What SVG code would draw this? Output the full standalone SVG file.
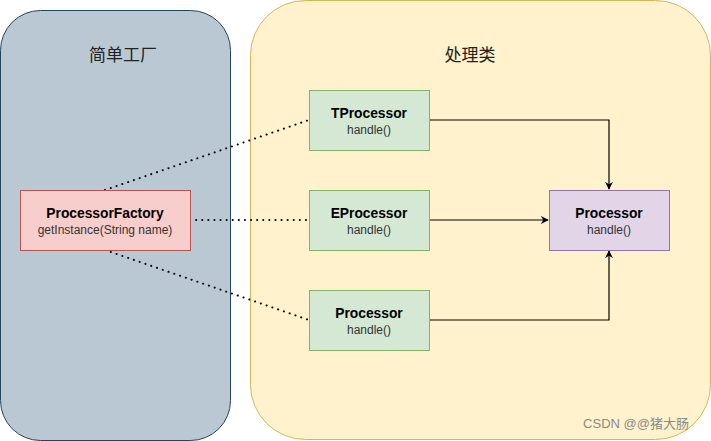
<svg xmlns="http://www.w3.org/2000/svg" width="711" height="441" viewBox="0 0 711 441">
<style>
.t{font-family:"Liberation Sans",Arial,sans-serif;text-anchor:middle;fill:#000}
.b{font-weight:bold;font-size:13.8px}
.s{font-size:12px;fill:#333}
.cn{font-family:"Liberation Sans","Noto Sans CJK SC",sans-serif;font-size:17px;text-anchor:middle;fill:#222}
.g{fill:#d5e8d4;stroke:#82b366;stroke-width:1}
.dot{fill:none;stroke:#000;stroke-width:2;stroke-dasharray:0.1 6;stroke-linecap:round}
.ln{fill:none;stroke:#000;stroke-width:1.2}
</style>
<defs>
<marker id="ar" viewBox="0 0 10 10" refX="9" refY="5" markerWidth="8" markerHeight="8" markerUnits="userSpaceOnUse" orient="auto">
<path d="M0,0 L10,5 L0,10 L3,5 Z" fill="#000"/>
</marker>
</defs>
<g id="factory-group">
<rect x="0.5" y="10.5" width="230" height="430" rx="40" fill="#bac8d3" stroke="#23445d"/>
<text class="cn" x="123" y="61">简单工厂</text>
</g>
<g id="handler-group">
<rect x="250.5" y="0.5" width="460" height="439" rx="55" fill="#fff2cc" stroke="#d6b656"/>
<text class="cn" x="470" y="61">处理类</text>
</g>
<g id="connectors">
<path class="dot" d="M105,190 L309,120"/>
<path class="dot" d="M190,220 L309,220"/>
<path class="dot" d="M105,250 L309,320"/>
<path class="ln" d="M429,120 L609,120 L609,189" marker-end="url(#ar)"/>
<path class="ln" d="M429,220 L548,220" marker-end="url(#ar)"/>
<path class="ln" d="M429,320 L609,320 L609,251" marker-end="url(#ar)"/>
</g>
<g id="ProcessorFactory">
<rect x="20.5" y="190.5" width="170" height="60" fill="#f8cecc" stroke="#b85450"/>
<text class="t b" x="105" y="218">ProcessorFactory</text>
<text class="t s" x="105" y="234">getInstance(String name)</text>
</g>
<g id="TProcessor">
<rect class="g" x="309.5" y="90.5" width="120" height="60"/>
<text class="t b" x="369" y="118">TProcessor</text>
<text class="t s" x="369" y="134">handle()</text>
</g>
<g id="EProcessor">
<rect class="g" x="309.5" y="190.5" width="120" height="60"/>
<text class="t b" x="369" y="218">EProcessor</text>
<text class="t s" x="369" y="234">handle()</text>
</g>
<g id="Processor2">
<rect class="g" x="309.5" y="290.5" width="120" height="60"/>
<text class="t b" x="369" y="318">Processor</text>
<text class="t s" x="369" y="334">handle()</text>
</g>
<g id="Processor">
<rect x="549.5" y="190.5" width="120" height="60" fill="#e1d5e7" stroke="#9673a6"/>
<text class="t b" x="609" y="218">Processor</text>
<text class="t s" x="609" y="234">handle()</text>
</g>
<text x="636" y="428" style="font-family:'Liberation Sans','Noto Sans CJK SC',sans-serif;font-size:13px;text-anchor:middle;fill:#8a8a8a">CSDN @@猪大肠</text>
</svg>
